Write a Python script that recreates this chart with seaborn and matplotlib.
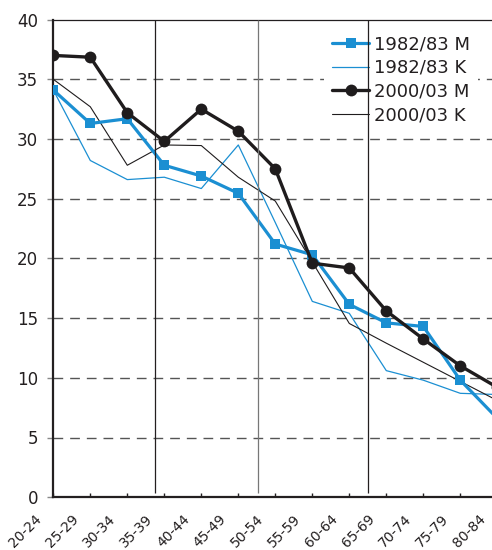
import numpy as np
import pandas as pd
import matplotlib
matplotlib.use("Agg")
import matplotlib.pyplot as plt
import matplotlib.transforms as mtransforms
import seaborn as sns

# ---- data ----
age_groups = ["20-24", "25-29", "30-34", "35-39", "40-44", "45-49", "50-54",
              "55-59", "60-64", "65-69", "70-74", "75-79", "80-84"]
m_1982 = [34.1, 31.3, 31.7, 27.8, 26.9, 25.45, 21.2, 20.3, 16.15, 14.6, 14.3, 9.8, 6.6]
k_1982 = [34.1, 28.2, 26.6, 26.8, 25.85, 29.5, 23.0, 16.4, 15.4, 10.6, 9.8, 8.7, 8.6]
m_2000 = [37.0, 36.85, 32.2, 29.8, 32.5, 30.65, 27.5, 19.6, 19.2, 15.6, 13.25, 11.0, 9.2]
k_2000 = [35.0, 32.7, 27.8, 29.5, 29.45, 26.8, 24.8, 19.7, 14.55, 12.9, 11.3, 9.7, 8.1]
series_labels = ["1982/83 M", "1982/83 K", "2000/03 M", "2000/03 K"]
divider_positions = [2.75, 5.52, 8.5]
y_ticks = [0, 5, 10, 15, 20, 25, 30, 35, 40]

sns.set_theme(style="white")
plt.rcParams["font.family"] = ["DejaVu Sans"]
plt.rcParams["text.color"] = "#231f20"

W, H = 492, 550
fig = plt.figure(figsize=(W / 100, H / 100), dpi=100)
x0_px, x_step = 53.3, 37.0
right_px = 515
y0_px, y40_px = 497.2, 19.6
ax = fig.add_axes([x0_px / W, (H - y0_px) / H, (right_px - x0_px) / W, (y0_px - y40_px) / H])

x = np.arange(len(age_groups))
blue = "#1b8fd2"
black = "#1f1c1d"

sns.lineplot(x=x, y=m_1982, ax=ax, color=blue, lw=2.3, marker="s", markersize=6.5,
             markeredgewidth=0, label=series_labels[0], zorder=4)
sns.lineplot(x=x, y=k_1982, ax=ax, color=blue, lw=0.9, label=series_labels[1], zorder=3)
sns.lineplot(x=x, y=m_2000, ax=ax, color=black, lw=2.4, marker="o", markersize=8.5,
             markeredgewidth=0, label=series_labels[2], zorder=4)
sns.lineplot(x=x, y=k_2000, ax=ax, color=black, lw=0.8, label=series_labels[3], zorder=3)

ax.set_xlim(0, (right_px - x0_px) / x_step)
ax.set_ylim(0, 40)
ax.set_yticks(y_ticks)
ax.set_yticklabels([str(v) for v in y_ticks], fontsize=12)
ax.set_xticks(x)
ax.set_xlabel("")
ax.set_ylabel("")

# grid
for v in y_ticks[1:-1]:
    ax.axhline(v, color="#555555", lw=1.0, ls=(0, (7, 5)), zorder=1)

# vertical dividers
ax.vlines(divider_positions, 0.35, 40, colors=["#231f20", "#777777", "#231f20"],
          lw=0.9, zorder=6)

for s in ["left", "bottom"]:
    ax.spines[s].set_linewidth(1.6)
    ax.spines[s].set_color("#231f20")
ax.spines["top"].set_linewidth(0.9)
ax.spines["top"].set_color("#231f20")
ax.spines["right"].set_visible(False)

ax.tick_params(axis="y", direction="out", length=4, width=1, color="#888888",
               pad=7, labelcolor="#231f20", left=True)
ax.tick_params(axis="x", direction="in", length=3, width=1, color="#231f20",
               pad=10.5, labelcolor="#231f20", bottom=True)

ax.set_xticklabels(age_groups, rotation=45, ha="right", va="top",
                   rotation_mode="anchor", fontsize=10)
offset = mtransforms.ScaledTranslation(-19 / 100, 0, fig.dpi_scale_trans)
for lab in ax.get_xticklabels():
    lab.set_transform(lab.get_transform() + offset)

leg = ax.legend(loc="upper left", bbox_to_anchor=(324 / W, 1 - 27 / H),
                bbox_transform=fig.transFigure, frameon=True, facecolor="white",
                edgecolor="none", framealpha=1, fancybox=False, borderpad=0.45,
                borderaxespad=0, handlelength=2.05, handletextpad=0.28,
                labelspacing=0.32, fontsize=13)
leg.set_zorder(5)

fig.savefig("out.png", dpi=100)
